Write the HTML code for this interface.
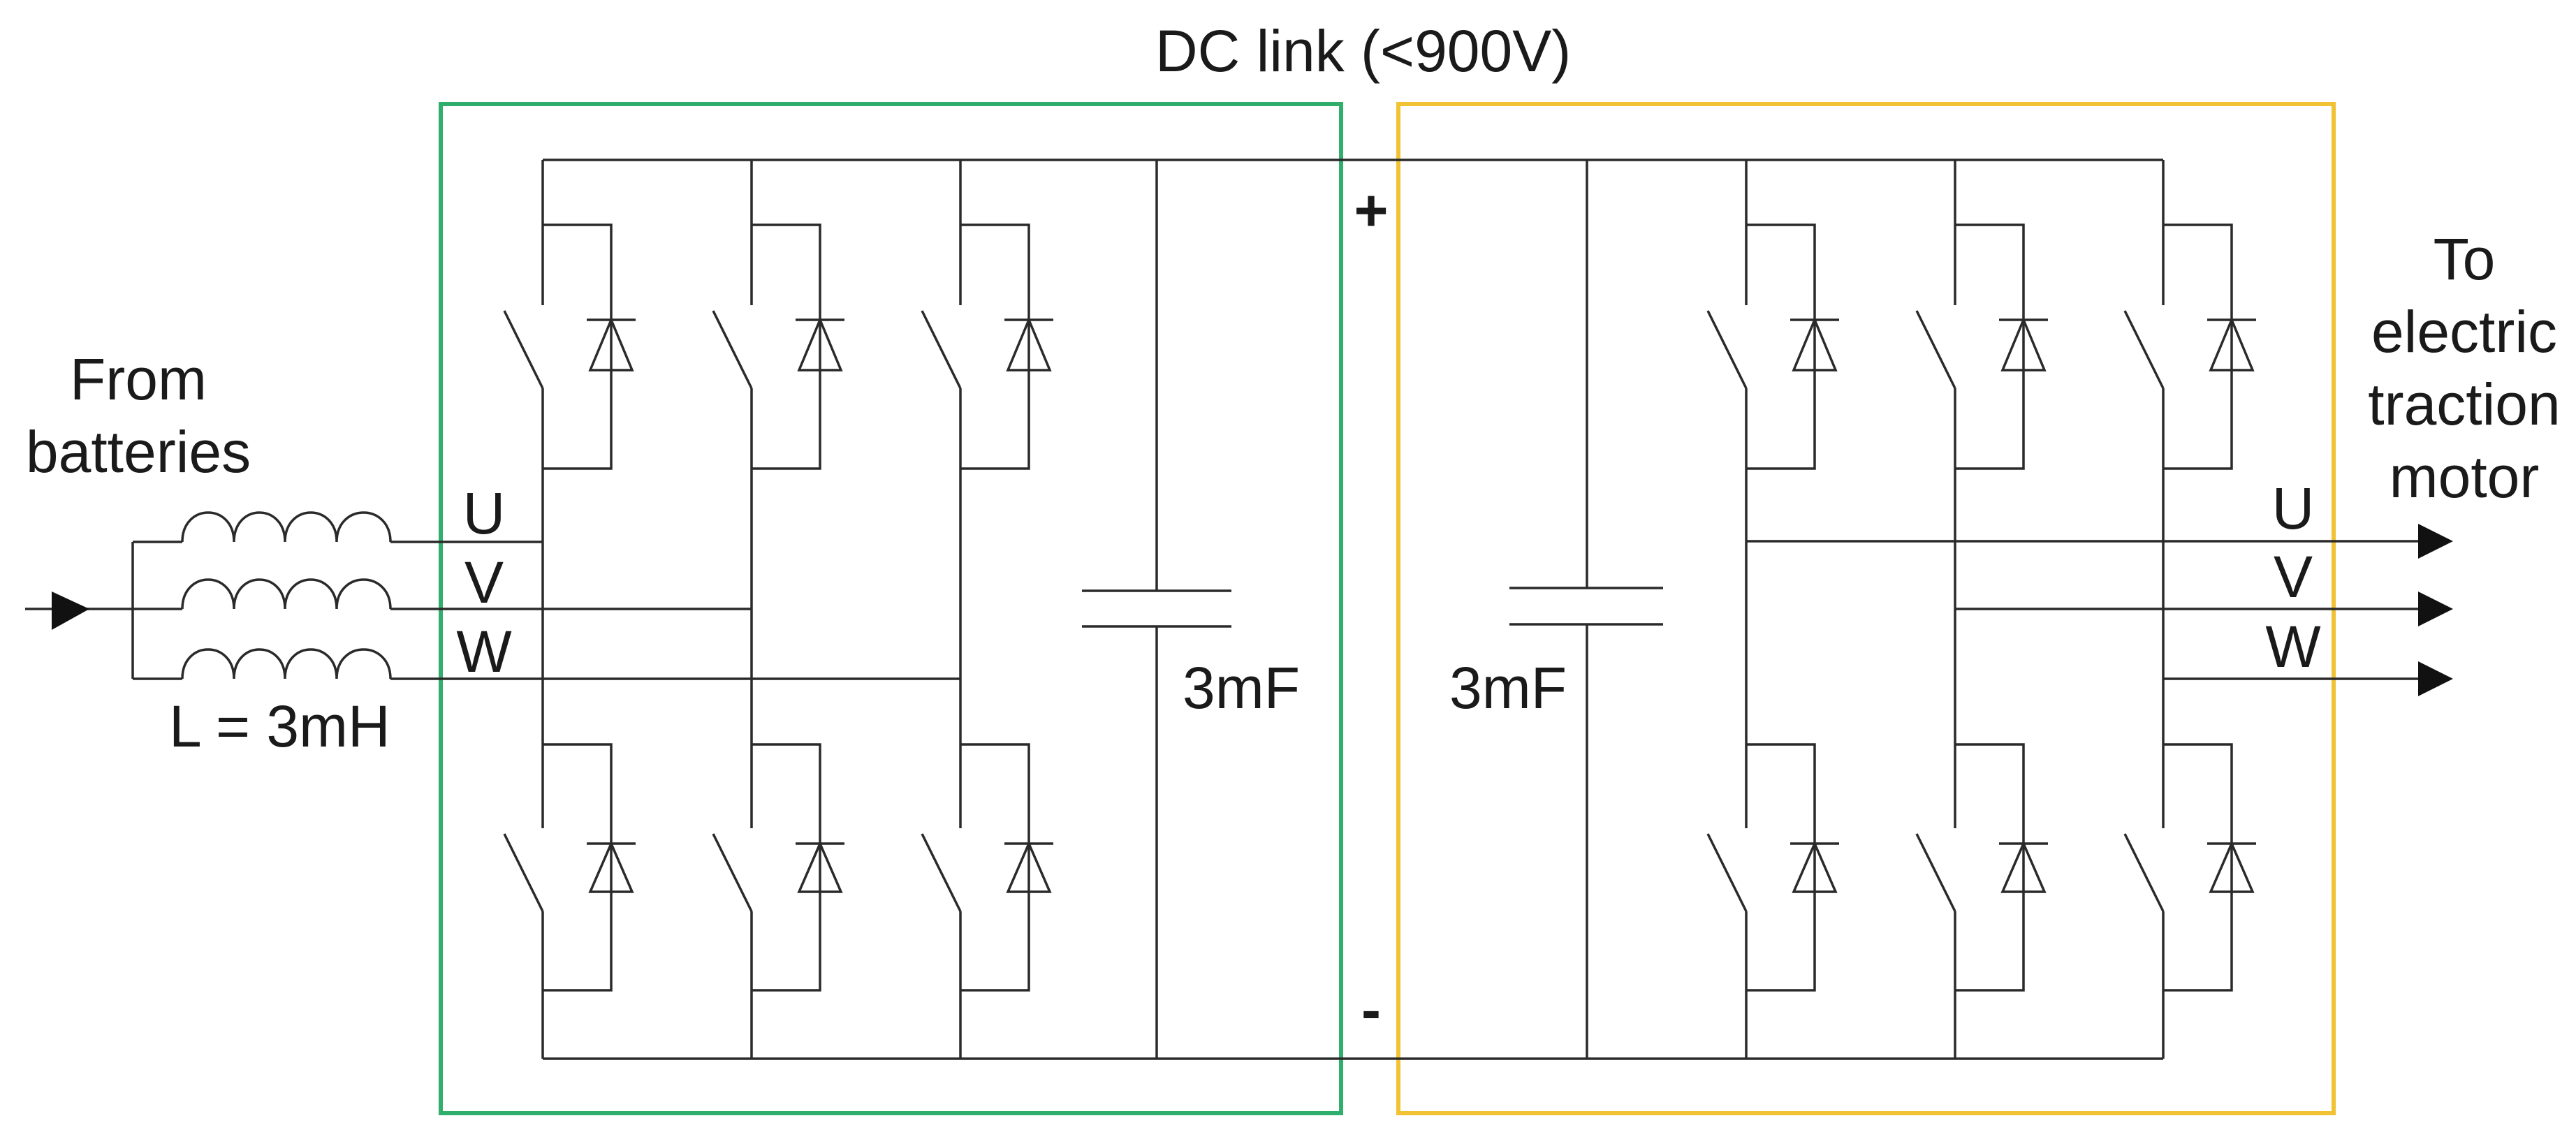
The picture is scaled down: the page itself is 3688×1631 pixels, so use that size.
<!DOCTYPE html>
<html><head><meta charset="utf-8"><style>
html,body{margin:0;padding:0;background:#fff;}
svg{display:block;}
text{font-family:"Liberation Sans",Arial,sans-serif;font-size:84px;fill:#1a1a1a;}
</style></head><body>
<svg width="3688" height="1631" viewBox="0 0 3688 1631" xmlns="http://www.w3.org/2000/svg">
<rect x="0" y="0" width="3688" height="1631" fill="#fff"/>
<!-- boxes -->
<rect x="631" y="149" width="1289" height="1445" fill="none" stroke="#2fae6c" stroke-width="6"/>
<rect x="2002" y="149" width="1339" height="1445" fill="none" stroke="#f1c233" stroke-width="6"/>
<g stroke="#2a2a2a" stroke-width="3.5" fill="none">
<!-- rails -->
<line x1="777" y1="229" x2="3097" y2="229"/>
<line x1="777" y1="1516" x2="3097" y2="1516"/>
<!-- capacitors -->
<line x1="1656" y1="229" x2="1656" y2="846"/>
<line x1="1656" y1="897" x2="1656" y2="1516"/>
<line x1="1549" y1="846" x2="1763" y2="846"/>
<line x1="1549" y1="897" x2="1763" y2="897"/>
<line x1="2272" y1="229" x2="2272" y2="842"/>
<line x1="2272" y1="894" x2="2272" y2="1516"/>
<line x1="2161" y1="842" x2="2381" y2="842"/>
<line x1="2161" y1="894" x2="2381" y2="894"/>
<!-- inductors & input -->
<line x1="36" y1="872" x2="261" y2="872"/>
<line x1="190" y1="776" x2="190" y2="972"/>
<line x1="190" y1="776" x2="261" y2="776"/>
<line x1="190" y1="972" x2="261" y2="972"/>
<path d="M261 776 C261 720 335 720 335 776 C335 720 408 720 408 776 C408 720 482 720 482 776 C482 720 559 720 559 776"/>
<path d="M261 872 C261 816 335 816 335 872 C335 816 408 816 408 872 C408 816 482 816 482 872 C482 816 559 816 559 872"/>
<path d="M261 972 C261 916 335 916 335 972 C335 916 408 916 408 972 C408 916 482 916 482 972 C482 916 559 916 559 972"/>
<line x1="559" y1="776" x2="777" y2="776"/>
<line x1="559" y1="872" x2="1076" y2="872"/>
<line x1="559" y1="972" x2="1375" y2="972"/>
<!-- outputs -->
<line x1="2500" y1="775" x2="3470" y2="775"/>
<line x1="2799" y1="872" x2="3470" y2="872"/>
<line x1="3097" y1="972" x2="3470" y2="972"/>
</g>
<g fill="#111">
<polygon points="74,847 128,872 74,902"/>
<polygon points="3462,750 3512,775 3462,800"/>
<polygon points="3462,847 3512,872 3462,897"/>
<polygon points="3462,947 3512,972 3462,997"/>
</g>
<defs>
<g id="leg" stroke="#2a2a2a" stroke-width="3.5" fill="none">
<line x1="0" y1="229" x2="0" y2="437"/>
<line x1="-55" y1="445" x2="0" y2="556"/>
<line x1="0" y1="556" x2="0" y2="1186"/>
<line x1="-55" y1="1194" x2="0" y2="1305"/>
<line x1="0" y1="1305" x2="0" y2="1516"/>
<polyline points="0,322 98,322 98,671 0,671"/>
<line x1="63" y1="458" x2="133" y2="458"/>
<polygon points="98,458 68,530 128,530"/>
<polyline points="0,1066 98,1066 98,1418 0,1418"/>
<line x1="63" y1="1208" x2="133" y2="1208"/>
<polygon points="98,1208 68,1277 128,1277"/>
</g>
</defs>
<use href="#leg" x="777"/>
<use href="#leg" x="1076"/>
<use href="#leg" x="1375"/>
<use href="#leg" x="2500"/>
<use href="#leg" x="2799"/>
<use href="#leg" x="3097"/>
<!-- text -->
<text x="1654" y="102">DC link (&lt;900V)</text>
<text x="198" y="572" text-anchor="middle">From</text>
<text x="198" y="676" text-anchor="middle">batteries</text>
<text x="693" y="764" text-anchor="middle">U</text>
<text x="693" y="863" text-anchor="middle">V</text>
<text x="693" y="962" text-anchor="middle">W</text>
<text x="242" y="1069">L = 3mH</text>
<text x="1693" y="1014">3mF</text>
<text x="2075" y="1014">3mF</text>
<text x="1963" y="330" text-anchor="middle" style="font-weight:bold">+</text>
<text x="1963" y="1475" text-anchor="middle" style="font-weight:bold">-</text>
<text x="3283" y="757" text-anchor="middle">U</text>
<text x="3283" y="855" text-anchor="middle">V</text>
<text x="3283" y="955" text-anchor="middle">W</text>
<text x="3528" y="400" text-anchor="middle">To</text>
<text x="3528" y="504" text-anchor="middle">electric</text>
<text x="3528" y="608" text-anchor="middle">traction</text>
<text x="3528" y="712" text-anchor="middle">motor</text>
</svg>
</body></html>
